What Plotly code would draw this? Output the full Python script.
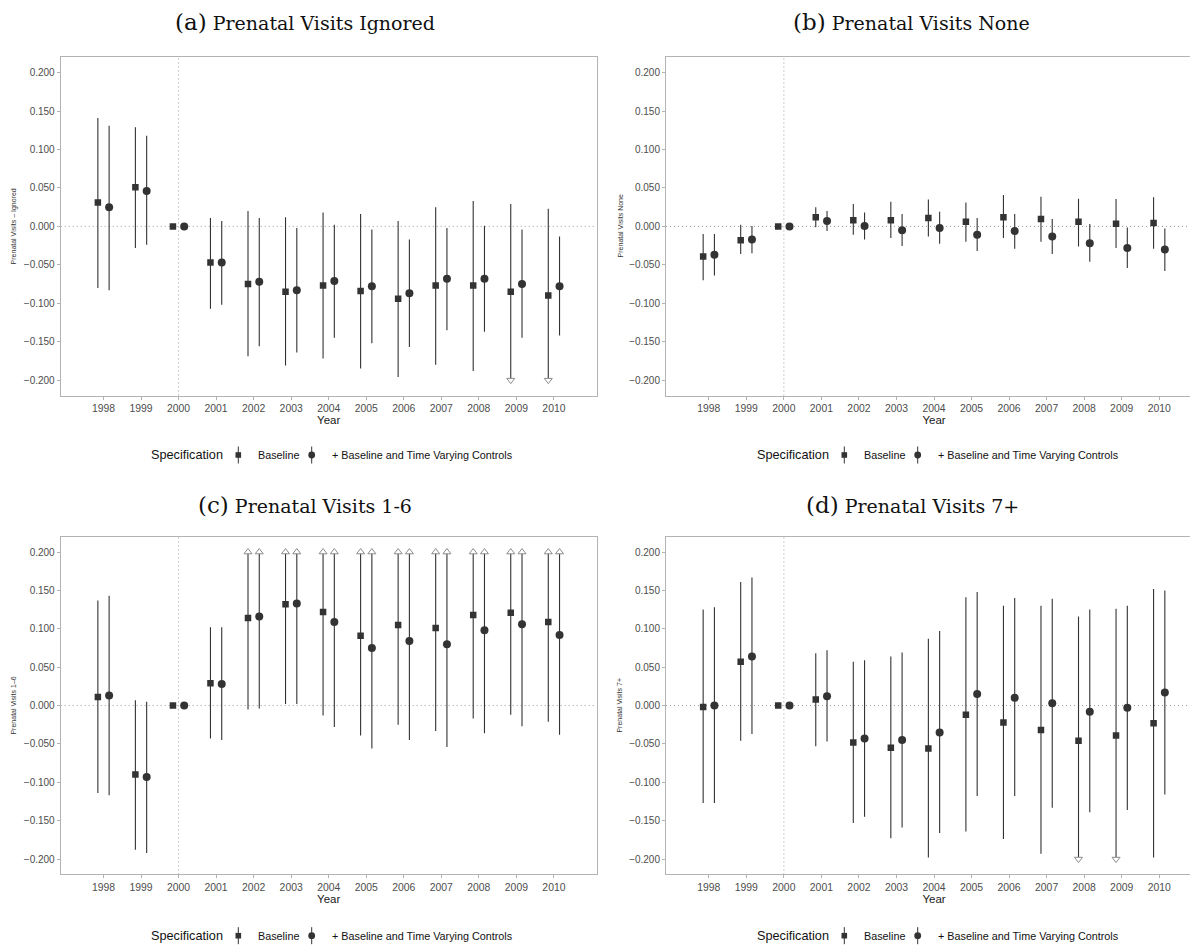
import plotly.graph_objects as go

# ---------------- data ----------------
years = [1998, 1999, 2000, 2001, 2002, 2003, 2004, 2005, 2006, 2007, 2008, 2009, 2010]
tick_years = years
y_ticks = [-0.2, -0.15, -0.1, -0.05, 0.0, 0.05, 0.1, 0.15, 0.2]
series_names = ["Baseline", "+ Baseline and Time Varying Controls"]

# (a) Prenatal Visits Ignored
a_base = [0.031, 0.051, 0.000, -0.047, -0.075, -0.085, -0.077, -0.084, -0.094, -0.077, -0.077, -0.085, -0.090]
a_base_lo = [-0.080, -0.028, 0.000, -0.107, -0.169, -0.181, -0.172, -0.185, -0.196, -0.180, -0.188, -0.205, -0.204]
a_base_hi = [0.141, 0.129, 0.000, 0.011, 0.020, 0.012, 0.018, 0.016, 0.007, 0.025, 0.033, 0.029, 0.023]
a_ctrl = [0.025, 0.046, 0.000, -0.047, -0.072, -0.083, -0.071, -0.078, -0.087, -0.068, -0.068, -0.075, -0.078]
a_ctrl_lo = [-0.083, -0.024, 0.000, -0.102, -0.156, -0.164, -0.145, -0.152, -0.157, -0.135, -0.137, -0.145, -0.142]
a_ctrl_hi = [0.131, 0.118, 0.000, 0.007, 0.011, -0.002, 0.002, -0.004, -0.017, -0.002, 0.001, -0.004, -0.013]

# (b) Prenatal Visits None
b_base = [-0.039, -0.018, 0.000, 0.012, 0.008, 0.008, 0.011, 0.006, 0.012, 0.0095, 0.006, 0.0035, 0.0043]
b_base_lo = [-0.070, -0.036, 0.000, -0.001, -0.011, -0.015, -0.013, -0.020, -0.015, -0.020, -0.026, -0.028, -0.029]
b_base_hi = [-0.010, 0.002, 0.000, 0.025, 0.029, 0.032, 0.035, 0.031, 0.041, 0.0385, 0.036, 0.0355, 0.038]
b_ctrl = [-0.037, -0.017, 0.000, 0.007, 0.0004, -0.005, -0.002, -0.011, -0.006, -0.013, -0.022, -0.028, -0.030]
b_ctrl_lo = [-0.064, -0.035, 0.000, -0.006, -0.017, -0.0255, -0.0225, -0.032, -0.029, -0.036, -0.046, -0.054, -0.058]
b_ctrl_hi = [-0.010, 0.0004, 0.000, 0.020, 0.018, 0.016, 0.019, 0.011, 0.016, 0.0095, 0.003, -0.0013, -0.0026]

# (c) Prenatal Visits 1-6
c_base = [0.011, -0.090, 0.000, 0.029, 0.114, 0.132, 0.122, 0.091, 0.105, 0.101, 0.118, 0.121, 0.109]
c_base_lo = [-0.114, -0.188, 0.000, -0.043, -0.005, 0.002, -0.013, -0.039, -0.025, -0.033, -0.017, -0.012, -0.021]
c_base_hi = [0.137, 0.007, 0.000, 0.102, 0.233, 0.262, 0.256, 0.219, 0.235, 0.235, 0.253, 0.253, 0.239]
c_ctrl = [0.013, -0.093, 0.000, 0.028, 0.116, 0.133, 0.109, 0.075, 0.084, 0.080, 0.098, 0.106, 0.092]
c_ctrl_lo = [-0.117, -0.192, 0.000, -0.045, -0.004, 0.002, -0.028, -0.056, -0.045, -0.054, -0.036, -0.027, -0.038]
c_ctrl_hi = [0.143, 0.005, 0.000, 0.102, 0.236, 0.264, 0.245, 0.204, 0.212, 0.214, 0.233, 0.240, 0.222]

# (d) Prenatal Visits 7+
d_base = [-0.002, 0.057, 0.000, 0.008, -0.048, -0.055, -0.056, -0.012, -0.022, -0.032, -0.046, -0.039, -0.023]
d_base_lo = [-0.127, -0.046, 0.000, -0.053, -0.153, -0.173, -0.198, -0.164, -0.174, -0.193, -0.207, -0.205, -0.198]
d_base_hi = [0.125, 0.161, 0.000, 0.068, 0.057, 0.064, 0.087, 0.141, 0.130, 0.130, 0.116, 0.126, 0.152]
d_ctrl = [0.000, 0.064, 0.000, 0.012, -0.043, -0.045, -0.035, 0.015, 0.010, 0.003, -0.008, -0.003, 0.017]
d_ctrl_lo = [-0.127, -0.037, 0.000, -0.047, -0.145, -0.159, -0.166, -0.118, -0.118, -0.133, -0.139, -0.136, -0.116]
d_ctrl_hi = [0.128, 0.167, 0.000, 0.072, 0.059, 0.069, 0.097, 0.148, 0.140, 0.139, 0.125, 0.130, 0.150]

panels = [
    dict(letter="(a)", title="Prenatal Visits Ignored", ylab="Prenatal Visits – Ignored",
         series=[(a_base, a_base_lo, a_base_hi), (a_ctrl, a_ctrl_lo, a_ctrl_hi)]),
    dict(letter="(b)", title="Prenatal Visits None", ylab="Prenatal Visits None",
         series=[(b_base, b_base_lo, b_base_hi), (b_ctrl, b_ctrl_lo, b_ctrl_hi)]),
    dict(letter="(c)", title="Prenatal Visits 1-6", ylab="Prenatal Visits 1–6",
         series=[(c_base, c_base_lo, c_base_hi), (c_ctrl, c_ctrl_lo, c_ctrl_hi)]),
    dict(letter="(d)", title="Prenatal Visits 7+", ylab="Prenatal Visits 7+",
         series=[(d_base, d_base_lo, d_base_hi), (d_ctrl, d_ctrl_lo, d_ctrl_hi)]),
]

# ---------------- layout geometry (pixels of the page) ----------------
OFF = 8            # default page body margin
FW, FH = 1198, 938
def px(x):
    return (x - OFF) / FW
def py(y):
    return 1 - (y - OFF) / FH

boxes = [(60.7, 596.7, 57.3, 395.5), (666, 1202, 57.3, 395.5),
         (60.7, 596.7, 536.7, 874.4), (666, 1202, 536.7, 874.4)]
title_pos = [(305, 22), (911, 22), (305, 505), (912, 505)]
ylab_x = [14, 620, 14, 620]
legend_origin = [(149, 455), (755, 455), (149, 935.7), (755, 935.7)]

LIM = 0.2
DODGE = 0.15
symbols = ["square", "circle"]
msizes = [6.5, 8]
DARK = "#333333"
TICKC = "#4d4d4d"
BORDER = "#b3b3b3"
SANS = "Liberation Sans, Arial, sans-serif"
SERIF = "DejaVu Serif, serif"

fig = go.Figure()
shapes = []
annotations = []

for i, p in enumerate(panels):
    k = "" if i == 0 else str(i + 1)
    xa, ya = "x" + k, "y" + k
    for s, (est, lo, hi) in enumerate(p["series"]):
        xs = [yr + (-DODGE if s == 0 else DODGE) for yr in years]
        hi_c = [min(h, LIM) for h in hi]
        lo_c = [max(l, -LIM) for l in lo]
        fig.add_trace(go.Scatter(
            x=xs, y=est, mode="markers", xaxis=xa, yaxis=ya,
            name=series_names[s], showlegend=False,
            marker=dict(symbol=symbols[s], size=msizes[s], color=DARK, line=dict(width=0)),
            error_y=dict(type="data", symmetric=False,
                         array=[h - e for h, e in zip(hi_c, est)],
                         arrayminus=[e - l for e, l in zip(est, lo_c)],
                         thickness=1.1, width=0, color=DARK),
        ))
        # out-of-range arrows
        up_x = [x for x, h in zip(xs, hi) if h > LIM]
        dn_x = [x for x, l in zip(xs, lo) if l < -LIM]
        if up_x:
            fig.add_trace(go.Scatter(
                x=up_x, y=[LIM] * len(up_x), mode="markers", xaxis=xa, yaxis=ya,
                showlegend=False, hoverinfo="skip",
                marker=dict(symbol="triangle-up", size=7, color="white",
                            line=dict(width=1, color="#8c8c8c"))))
        if dn_x:
            fig.add_trace(go.Scatter(
                x=dn_x, y=[-LIM] * len(dn_x), mode="markers", xaxis=xa, yaxis=ya,
                showlegend=False, hoverinfo="skip",
                marker=dict(symbol="triangle-down", size=7, color="white",
                            line=dict(width=1, color="#8c8c8c"))))

    x0, x1, y0, y1 = boxes[i]
    axis_common = dict(showline=True, mirror=True, linecolor=BORDER, linewidth=1,
                       showgrid=False, zeroline=False, ticks="outside", ticklen=3,
                       tickwidth=1, tickcolor=BORDER, automargin=False,
                       tickfont=dict(family=SANS, size=10.4, color=TICKC))
    fig.update_layout({
        "xaxis" + k: dict(axis_common, domain=[px(x0), px(x1)], range=[1996.86, 2011.14],
                          tickvals=tick_years, anchor=ya,
                          title=dict(text="Year", standoff=0,
                                     font=dict(family=SANS, size=11.5, color="#1a1a1a"))),
        "yaxis" + k: dict(axis_common, domain=[py(y1), py(y0)], range=[-0.22, 0.22],
                          tickvals=y_ticks, tickformat=".3f", anchor=xa,
                          tickfont=dict(family=SANS, size=10, color=TICKC)),
    })
    # reference lines
    shapes.append(dict(type="line", xref=xa + " domain", yref=ya, x0=0, x1=1, y0=0, y1=0,
                       line=dict(color="#9a9a9a", width=1, dash="1px,3px"), layer="below"))
    shapes.append(dict(type="line", xref=xa, yref=ya + " domain", x0=2000, x1=2000, y0=0, y1=1,
                       line=dict(color="#9a9a9a", width=1, dash="1px,3px"), layer="below"))
    # title
    tx, ty = title_pos[i]
    annotations.append(dict(
        xref="paper", yref="paper", x=px(tx), y=py(ty), xanchor="center", yanchor="middle",
        showarrow=False,
        text="<span style='font-size:23px'>" + p["letter"] + "</span> " + p["title"],
        font=dict(family=SERIF, size=19, color="#111111")))
    # y label
    annotations.append(dict(
        xref="paper", yref="paper", x=px(ylab_x[i]), y=py((y0 + y1) / 2),
        xanchor="center", yanchor="middle", textangle=-90, showarrow=False,
        text=p["ylab"], font=dict(family=SANS, size=7, color="#333333")))
    # legend (manual)
    lx, ly = legend_origin[i]
    annotations.append(dict(xref="paper", yref="paper", x=px(lx), y=py(ly),
                            xanchor="left", yanchor="middle", showarrow=False,
                            text="Specification", font=dict(family=SANS, size=12.7, color="#111111")))
    gx1 = lx + 89.3
    gx2 = lx + 162.7
    for gx in (gx1, gx2):
        shapes.append(dict(type="line", xref="paper", yref="paper", x0=px(gx), x1=px(gx),
                           y0=py(ly - 8.5), y1=py(ly + 8.5), line=dict(color=DARK, width=1)))
    shapes.append(dict(type="rect", xref="paper", yref="paper",
                       x0=px(gx1 - 2.8), x1=px(gx1 + 2.8), y0=py(ly - 2.8), y1=py(ly + 2.8),
                       fillcolor=DARK, line=dict(width=0)))
    shapes.append(dict(type="circle", xref="paper", yref="paper",
                       x0=px(gx2 - 3.4), x1=px(gx2 + 3.4), y0=py(ly - 3.4), y1=py(ly + 3.4),
                       fillcolor=DARK, line=dict(width=0)))
    annotations.append(dict(xref="paper", yref="paper", x=px(lx + 106.7), y=py(ly),
                            xanchor="left", yanchor="middle", showarrow=False,
                            text=series_names[0], font=dict(family=SANS, size=10.8, color="#111111")))
    annotations.append(dict(xref="paper", yref="paper", x=px(lx + 181), y=py(ly),
                            xanchor="left", yanchor="middle", showarrow=False,
                            text=series_names[1], font=dict(family=SANS, size=10.8, color="#111111")))

fig.update_layout(
    width=FW, height=FH, margin=dict(l=0, r=0, t=0, b=0),
    paper_bgcolor="white", plot_bgcolor="white",
    showlegend=False, shapes=shapes, annotations=annotations,
)

fig.write_html("out.html")
